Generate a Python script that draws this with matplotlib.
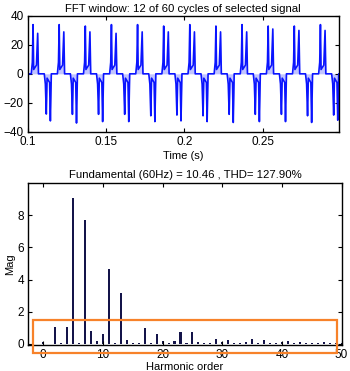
import numpy as np
import matplotlib.pyplot as plt
from matplotlib.patches import Rectangle

plt.rcParams['font.family'] = ['Liberation Sans', 'DejaVu Sans']

# senal: 12 ciclos de 60 Hz, cada ciclo con dos picos positivos y dos negativos
f0 = 60.0
t_inicio = 0.1
t_fin = 0.2985

# forma de un ciclo (ms desde el inicio del ciclo) y valores relativos
forma_t_ms = [0.0, 2.3, 3.0, 3.45, 3.85, 5.6, 6.4, 6.9,
              10.6, 11.3, 11.9, 12.4, 14.0, 14.5, 15.1, 16.6]
forma_v = [0, 0, 8, 'P1', 3, 6, 'P2', 0,
           0, -7, 'N1', -3, -6, 'N2', 0, 0]

# picos de cada ciclo
pico1 = [34, 34, 33, 34, 34, 33, 34, 33, 34, 33, 33, 34]
pico2 = [28, 29, 29, 28, 29, 29, 29, 29, 29, 31, 30, 30]
valle1 = [-27.8, -28, -28, -28, -29, -28.5, -29, -28, -28, -28, -29, -28.5]
valle2 = [-32.5, -34, -33, -33, -33, -32.5, -33, -33.6, -33, -33, -33.6, -32]

# espectro: magnitud por orden armonico 0..50
orden = list(range(51))
mag = [0.10, 0.03, 1.05, 0.05, 1.02, 9.08, 0.05, 7.73, 0.78, 0.15,
       0.62, 4.63, 0.05, 3.15, 0.20, 0.05, 0.05, 1.00, 0.05, 0.62,
       0.15, 0.05, 0.15, 0.72, 0.05, 0.70, 0.10, 0.05, 0.05, 0.32,
       0.08, 0.22, 0.05, 0.05, 0.10, 0.30, 0.05, 0.22, 0.05, 0.05,
       0.12, 0.15, 0.05, 0.12, 0.05, 0.05, 0.07, 0.08, 0.05, 0.05,
       0.05]

fundamental = 10.46
thd = 127.90


def armar_senal():
    tt = []
    yy = []
    for k in range(len(pico1)):
        t0 = t_inicio + k / f0
        picos = {'P1': pico1[k], 'P2': pico2[k], 'N1': valle1[k], 'N2': valle2[k]}
        for dt, v in zip(forma_t_ms, forma_v):
            tt.append(t0 + dt / 1000.0)
            yy.append(picos[v] if isinstance(v, str) else v)
    return np.array(tt), np.array(yy)


def estilo_matlab(ax):
    ax.tick_params(direction='in', top=True, right=True, labelsize=8.5,
                   length=3, width=0.8, pad=3)
    for s in ax.spines.values():
        s.set_linewidth(1.0)


fig = plt.figure(figsize=(3.5, 3.71), dpi=100)

ax1 = fig.add_axes([0.079, 0.645, 0.889, 0.312])
t, y = armar_senal()
ax1.fill_between(t, y, 0, color='#0a14ff', alpha=0.25, lw=0)
ax1.plot(t, y, color='#0a14ff', lw=1.2)
ax1.set_xlim(t_inicio, t_fin)
ax1.set_ylim(-40, 40)
ax1.set_xticks([0.1, 0.15, 0.2, 0.25])
ax1.set_xticklabels(['0.1', '0.15', '0.2', '0.25'])
ax1.set_yticks([-40, -20, 0, 20, 40])
ax1.set_xlabel('Time (s)', fontsize=8, labelpad=2)
ax1.set_title('FFT window: 12 of 60 cycles of selected signal', fontsize=8.2, pad=3)
estilo_matlab(ax1)

ax2 = fig.add_axes([0.081, 0.071, 0.895, 0.435])
ax2.bar(orden[:1] + orden[2:], mag[:1] + mag[2:], width=0.35, color='#14144a')
ax2.set_xlim(-2.5, 50)
ax2.set_ylim(-0.06, 10)
ax2.set_xticks([0, 10, 20, 30, 40, 50])
ax2.set_yticks([0, 2, 4, 6, 8])
ax2.set_xlabel('Harmonic order', fontsize=8, labelpad=1)
ax2.set_ylabel('Mag', fontsize=8, labelpad=2)
ax2.set_title(f'Fundamental (60Hz) = {fundamental:.2f} , THD= {thd:.2f}%',
              fontsize=8.2, pad=4)
estilo_matlab(ax2)

# recuadro naranja sobre los armonicos chicos
marco = Rectangle((-1.8, -0.55), 51.0, 2.0, fill=False, edgecolor='#f7822a',
                  lw=1.6, clip_on=False, zorder=5)
ax2.add_patch(marco)

fig.savefig('out.png', dpi=100)
